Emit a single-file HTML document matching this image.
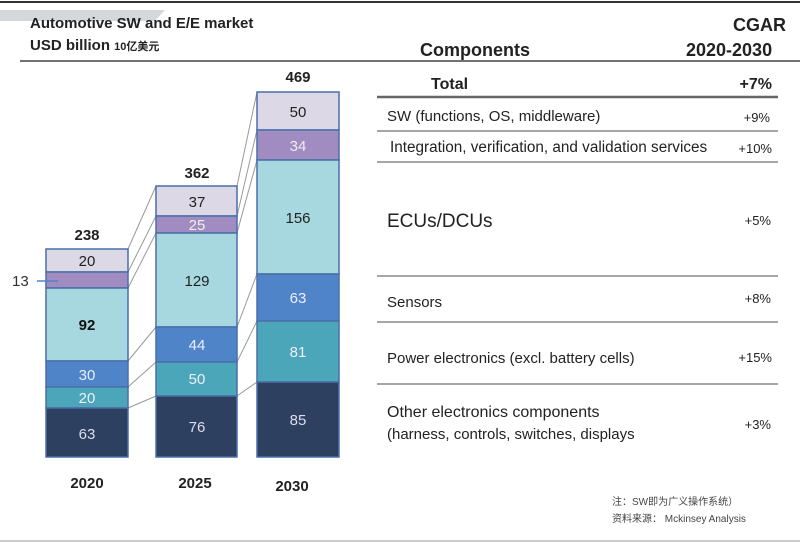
<!DOCTYPE html>
<html><head><meta charset="utf-8"><style>
html,body{margin:0;padding:0;background:#fff;}
svg{display:block;font-family:"Liberation Sans","Noto Sans CJK SC",sans-serif;}
</style></head><body>
<svg width="800" height="543" viewBox="0 0 800 543" xmlns="http://www.w3.org/2000/svg">
<rect width="800" height="543" fill="#fff"/>
<line x1="0" y1="2" x2="800" y2="2" stroke="#333" stroke-width="2"/>
<polygon points="0,10 165,10 155,21 0,21" fill="#d4d8dd"/>
<text x="30" y="28" font-size="15" font-weight="bold" fill="#222">Automotive SW and E/E market</text>
<text x="30" y="50" font-size="15" font-weight="bold" fill="#222">USD billion <tspan font-size="11">10亿美元</tspan></text>
<line x1="20" y1="61" x2="800" y2="61" stroke="#444" stroke-width="1.5"/>
<g stroke="#999" stroke-width="1">
<line x1="128" y1="249" x2="156" y2="186"/><line x1="128" y1="272" x2="156" y2="216"/>
<line x1="128" y1="288" x2="156" y2="233"/><line x1="128" y1="361" x2="156" y2="327"/>
<line x1="128" y1="387" x2="156" y2="362"/><line x1="128" y1="408" x2="156" y2="396"/>
<line x1="237" y1="186" x2="257" y2="92"/><line x1="237" y1="216" x2="257" y2="130"/>
<line x1="237" y1="233" x2="257" y2="160"/><line x1="237" y1="327" x2="257" y2="274"/>
<line x1="237" y1="362" x2="257" y2="321"/><line x1="237" y1="396" x2="257" y2="382"/>
</g>
<g stroke="#4a6fa8" stroke-width="1.5">
<rect x="46" y="249" width="82" height="23" fill="#dcd8e6"/>
<rect x="46" y="272" width="82" height="16" fill="#a08cc0"/>
<rect x="46" y="288" width="82" height="73" fill="#a8d8df"/>
<rect x="46" y="361" width="82" height="26" fill="#4f85c8"/>
<rect x="46" y="387" width="82" height="21" fill="#4aa6b8"/>
<rect x="46" y="408" width="82" height="49" fill="#2e4060"/>
<rect x="156" y="186" width="81" height="30" fill="#dcd8e6"/>
<rect x="156" y="216" width="81" height="17" fill="#a08cc0"/>
<rect x="156" y="233" width="81" height="94" fill="#a8d8df"/>
<rect x="156" y="327" width="81" height="35" fill="#4f85c8"/>
<rect x="156" y="362" width="81" height="34" fill="#4aa6b8"/>
<rect x="156" y="396" width="81" height="61" fill="#2e4060"/>
<rect x="257" y="92" width="82" height="38" fill="#dcd8e6"/>
<rect x="257" y="130" width="82" height="30" fill="#a08cc0"/>
<rect x="257" y="160" width="82" height="114" fill="#a8d8df"/>
<rect x="257" y="274" width="82" height="47" fill="#4f85c8"/>
<rect x="257" y="321" width="82" height="61" fill="#4aa6b8"/>
<rect x="257" y="382" width="82" height="75" fill="#2e4060"/>
</g>
<line x1="37" y1="281" x2="58" y2="281" stroke="#4f85c8" stroke-width="1.5"/>
<text x="12" y="286" font-size="15" fill="#333">13</text>
<g font-size="15" text-anchor="middle">
<text x="87" y="266" fill="#222">20</text>
<text x="87" y="330" fill="#111" font-weight="bold">92</text>
<text x="87" y="380" fill="#e8eef8">30</text>
<text x="87" y="403" fill="#eef">20</text>
<text x="87" y="439" fill="#dde">63</text>
<text x="197" y="207" fill="#222">37</text>
<text x="197" y="230" fill="#eee">25</text>
<text x="197" y="286" fill="#222">129</text>
<text x="197" y="350" fill="#eef">44</text>
<text x="197" y="384" fill="#eef">50</text>
<text x="197" y="432" fill="#dde">76</text>
<text x="298" y="117" fill="#222">50</text>
<text x="298" y="151" fill="#eee">34</text>
<text x="298" y="223" fill="#222">156</text>
<text x="298" y="303" fill="#eef">63</text>
<text x="298" y="357" fill="#eef">81</text>
<text x="298" y="425" fill="#dde">85</text>
<text x="87" y="240" font-weight="bold" fill="#222">238</text>
<text x="197" y="178" font-weight="bold" fill="#222">362</text>
<text x="298" y="82" font-weight="bold" fill="#222">469</text>
<text x="87" y="488" fill="#222" font-weight="bold">2020</text>
<text x="195" y="488" fill="#222" font-weight="bold">2025</text>
<text x="292" y="491" fill="#222" font-weight="bold">2030</text>
</g>
<text x="420" y="56" font-size="18" font-weight="bold" fill="#222">Components</text>
<text x="733" y="31" font-size="18" font-weight="bold" fill="#222">CGAR</text>
<text x="686" y="56" font-size="18" font-weight="bold" fill="#222">2020-2030</text>
<g stroke="#888">
<line x1="377" y1="97" x2="778" y2="97" stroke-width="2.5" stroke="#666"/>
<line x1="377" y1="131" x2="778" y2="131" stroke-width="1.5"/>
<line x1="377" y1="162" x2="778" y2="162" stroke-width="1.5"/>
<line x1="377" y1="276" x2="778" y2="276" stroke-width="1.5"/>
<line x1="377" y1="322" x2="778" y2="322" stroke-width="1.5"/>
<line x1="377" y1="384" x2="778" y2="384" stroke-width="1.5"/>
</g>
<text x="431" y="89" font-size="16" font-weight="bold" fill="#222">Total</text>
<g font-size="15" fill="#222">
<text x="387" y="121">SW (functions, OS, middleware)</text>
<text x="390" y="152" font-size="15.3">Integration, verification, and validation services</text>
<text x="387" y="307">Sensors</text>
<text x="387" y="363">Power electronics (excl. battery cells)</text>
<text x="387" y="417" font-size="16">Other electronics components</text>
<text x="387" y="439">(harness, controls, switches, displays</text>
</g>
<text x="387" y="227" font-size="19" fill="#222">ECUs/DCUs</text>
<g text-anchor="end" fill="#222" font-size="13">
<text x="772" y="89" font-size="16" font-weight="bold">+7%</text>
<text x="770" y="122">+9%</text>
<text x="772" y="153">+10%</text>
<text x="771" y="225">+5%</text>
<text x="771" y="303">+8%</text>
<text x="772" y="362">+15%</text>
<text x="771" y="429">+3%</text>
</g>
<text x="612" y="505" font-size="10" fill="#444">注：SW即为广义操作系统）</text>
<text x="612" y="522" font-size="10" fill="#444">资料来源：  Mckinsey Analysis</text>
<line x1="0" y1="541" x2="800" y2="541" stroke="#ccc" stroke-width="2"/>
</svg>
</body></html>
